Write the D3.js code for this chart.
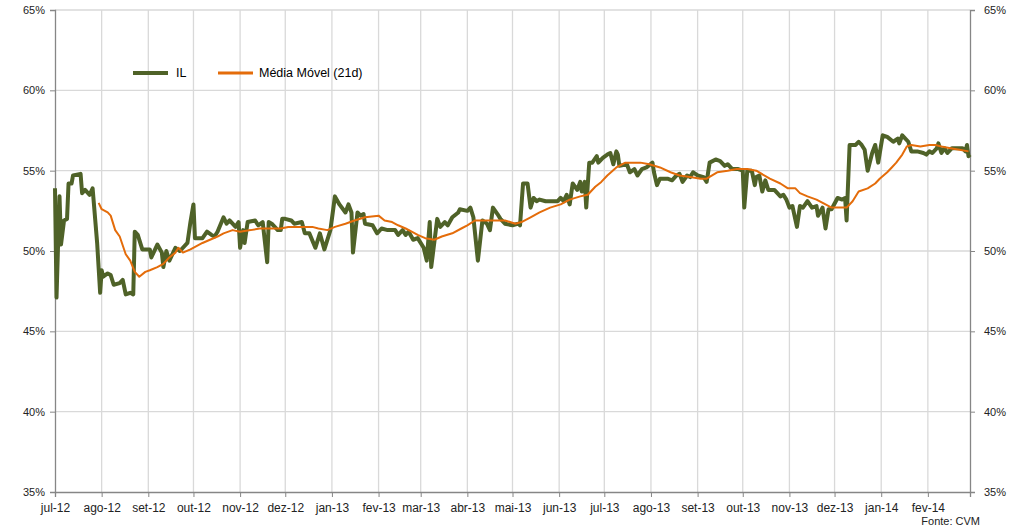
<!DOCTYPE html>
<head>
  <meta charset="utf-8">
  <script src="https://d3js.org/d3.v7.min.js"></script>
  <style>
    body { margin: 0; background: #fff; }
    svg { display: block; font-family: "Liberation Sans", Arial, sans-serif; }
    .axis path, .axis line { stroke: #868686; }
    .axis text { fill: #222; }
    .grid line { stroke: #d9d9d9; stroke-width: 1.3; }
  </style>
</head>
<body>
  <svg width="1023" height="531"></svg>
  <script>
    var width = 1023;
    var height = 531;
    var margin = { top: 10, bottom: 39, left: 55, right: 53 };

    // day counts since 1 jul 2012
    var startDate = new Date(2012, 6, 1);
    var endDate = new Date(2014, 2, 1);
    var monthNames = ['jan', 'fev', 'mar', 'abr', 'mai', 'jun', 'jul', 'ago', 'set', 'out', 'nov', 'dez'];
    var yTicks = [35, 40, 45, 50, 55, 60, 65];

    var ilDays = [0, 1, 3, 4, 6, 8, 9, 11, 12, 17, 18, 20, 23, 25, 28, 30, 31, 32, 35, 37, 39, 43, 45, 47, 50, 52,
      53, 55, 58, 63, 64, 68, 71, 72, 74, 76, 80, 83, 88, 90, 92, 93, 98, 101, 104, 106, 108, 112, 114, 116, 120,
      122, 123, 125, 126, 128, 133, 135, 138, 141, 142, 144, 148, 150, 151, 153, 157, 159, 164, 166, 169, 173, 176,
      179, 183, 186, 189, 193, 195, 197, 198, 201, 203, 205, 206, 211, 214, 217, 221, 226, 228, 231, 233, 235, 238,
      241, 245, 247, 249, 250, 254, 256, 259, 261, 264, 268, 269, 274, 276, 278, 281, 284, 287, 289, 291, 294, 296,
      299, 304, 308, 309, 311, 314, 316, 318, 320, 322, 326, 329, 334, 336, 338, 340, 342, 344, 347, 349, 350, 352,
      353, 355, 357, 360, 361, 364, 367, 369, 371, 373, 374, 375, 380, 382, 385, 387, 390, 393, 397, 398, 400, 402,
      407, 410, 413, 415, 417, 420, 422, 424, 427, 431, 433, 435, 439, 442, 445, 447, 450, 454, 457, 458, 460, 463,
      465, 466, 468, 470, 472, 474, 478, 482, 484, 486, 488, 490, 493, 495, 497, 500, 503, 506, 507, 510, 512, 514,
      516, 520, 523, 525, 526, 528, 532, 534, 536, 538, 540, 543, 545, 547, 550, 553, 557, 560, 561, 563, 567, 569,
      573, 577, 579, 581, 583, 586, 587, 589, 591, 593, 596, 599, 603, 605, 606, 607, 608];
    var ilValues = [53.9, 47.1, 53.4, 50.4, 51.9, 52.0, 54.2, 54.2, 54.7, 54.8, 53.6, 53.8, 53.5, 53.9, 50.5, 47.4,
      48.8, 48.4, 48.6, 48.5, 47.9, 48.0, 48.2, 47.3, 47.4, 47.3,
      51.2, 51.0, 50.1, 50.1, 49.6, 50.4, 49.9, 49.0, 50.0, 49.4, 50.2, 50.0, 50.5, 51.8, 52.9, 50.8, 50.8, 51.2,
      51.0, 50.9, 51.2, 52.1, 51.7, 51.9, 51.5,
      51.8, 50.2, 51.3, 50.5, 51.8, 51.9, 51.6, 51.8, 49.3, 51.8, 51.7, 51.3, 51.3, 52.0, 52.0, 51.9, 51.7, 51.8,
      51.1, 51.1, 50.2, 51.1,
      50.1, 51.3, 53.4, 52.9, 52.4, 52.9, 52.4, 49.9, 52.4, 52.2, 52.3, 51.7, 51.6, 51.1, 51.4, 51.3, 51.3, 51.0,
      51.3, 51.0, 51.2, 50.7,
      50.8, 50.2, 49.4, 51.8, 49.0, 52.0, 51.5, 51.8, 51.6, 52.1, 52.4, 52.6, 52.5, 52.7, 52.1, 49.4, 51.9, 51.7,
      51.3, 52.7, 52.3, 52.0,
      51.7, 51.6, 51.7, 51.6, 54.2, 54.2, 52.7, 53.3, 53.1, 53.2, 53.1, 53.1, 53.1, 53.3, 53.1, 53.5, 52.9, 54.2,
      53.8, 54.3, 53.7, 54.3,
      52.7, 55.5, 55.5, 55.9, 55.5, 55.8, 56.0, 56.1, 55.4, 56.2, 56.0, 55.3, 55.4, 54.9, 55.1, 54.7, 55.1, 55.2,
      55.5, 54.9, 54.1, 54.5,
      54.5, 54.4, 54.7, 54.8, 54.3, 54.7, 54.6, 54.9, 54.7, 54.6, 54.3, 55.5, 55.7, 55.6, 55.3, 55.4, 55.1, 55.1,
      55.0, 52.7, 55.0, 55.0,
      54.1, 54.6, 54.7, 53.7, 54.4, 53.8, 53.8, 53.4, 53.5, 53.2, 52.7, 52.8, 51.5, 52.8, 52.7, 53.1, 52.7, 52.8,
      52.2, 52.7, 51.4, 52.6,
      52.6, 53.3, 53.2, 53.3, 51.9, 56.6, 56.6, 56.8, 56.6, 56.3, 55.0, 56.1, 56.6, 55.5, 57.2, 57.1, 56.8, 57.0,
      56.7, 57.2, 56.8, 56.2,
      56.2, 56.1, 56.0, 56.2, 56.1, 56.4, 56.7, 56.1, 56.4, 56.1, 56.4, 56.4, 56.4, 56.2, 56.6, 55.9, 56.0];

    var maDays = [29, 31, 35, 37, 40, 43, 47, 50, 53, 56, 60, 63, 68, 72, 76, 80, 82, 85, 90, 94, 98, 103, 108, 112,
      118, 123, 130, 136, 143, 150, 155, 159, 166, 171, 175, 181, 186, 193, 199, 206, 215, 219, 224, 228, 233, 237,
      241, 246, 252, 257, 264, 270, 274, 279, 286, 292, 299, 306, 310, 316, 322, 329, 336, 342, 349, 354, 359, 363,
      367, 373, 379, 383, 389, 395, 402, 409, 415, 422, 429, 433, 440, 447, 453, 460, 466, 475, 482, 487, 492, 495,
      500, 506, 512, 516, 522, 526, 530, 534, 540, 545, 548, 553, 556, 559, 563, 566, 569, 575, 581, 585, 589, 595,
      601, 607];
    var maValues = [53.0, 52.6, 52.4, 52.2, 51.3, 50.9, 49.8, 49.4, 48.7, 48.4, 48.7, 48.8, 49.0, 49.2, 49.6, 49.9,
      50.2, 49.9, 50.1, 50.3, 50.5, 50.7, 50.9, 51.1, 51.3, 51.2, 51.3, 51.4, 51.4, 51.4, 51.5, 51.5, 51.5, 51.5,
      51.4, 51.3, 51.5, 51.7, 51.9, 52.1, 52.2, 51.9, 51.8, 51.6, 51.4, 51.2, 51.0, 50.8, 50.7, 50.9, 51.1, 51.4,
      51.6, 51.9, 51.9, 51.9, 51.9, 51.7, 51.8, 52.1, 52.4, 52.7, 52.9, 53.2, 53.4, 53.5, 54.0, 54.3, 54.7, 55.2,
      55.5, 55.5, 55.5, 55.4, 55.2, 54.9, 54.7, 54.6, 54.5, 54.5, 54.9, 55.0, 55.1, 55.1, 55.0, 54.5, 54.2, 53.9,
      53.9, 53.6, 53.4, 53.2, 52.9, 52.7, 52.7, 52.7, 53.1, 53.7, 53.9, 54.2, 54.5, 54.9, 55.2, 55.5, 56.0, 56.5,
      56.6, 56.5, 56.6, 56.6, 56.5, 56.4, 56.3, 56.2];

    var ilData = ilDays.map(function (d, i) {
      return { date: d3.timeDay.offset(startDate, d), value: ilValues[i] };
    });
    var maData = maDays.map(function (d, i) {
      return { date: d3.timeDay.offset(startDate, d), value: maValues[i] };
    });

    var svg = d3.select('svg');

    var xScale = d3.scaleTime()
      .domain([startDate, endDate])
      .range([margin.left, width - margin.right]);
    var yScale = d3.scaleLinear()
      .domain([35, 65])
      .range([height - margin.bottom, margin.top]);

    var months = d3.timeMonth.range(startDate, endDate);
    var monthLabel = function (d) {
      return monthNames[d.getMonth()] + '-' + String(d.getFullYear()).slice(2);
    };

    // grid
    svg.append('g').attr('class', 'grid')
      .selectAll('line').data(months.slice(1)).enter().append('line')
      .attr('x1', d => xScale(d)).attr('x2', d => xScale(d))
      .attr('y1', margin.top).attr('y2', height - margin.bottom);
    svg.append('g').attr('class', 'grid')
      .selectAll('line').data(yTicks.slice(1)).enter().append('line')
      .attr('x1', margin.left).attr('x2', width - margin.right)
      .attr('y1', d => yScale(d)).attr('y2', d => yScale(d));

    // axes
    var yAxisL = d3.axisLeft(yScale).tickValues(yTicks).tickFormat(d => d + '%').tickSize(5).tickPadding(5);
    var yAxisR = d3.axisRight(yScale).tickValues(yTicks).tickFormat(d => d + '%').tickSize(5).tickPadding(9);
    var xAxis = d3.axisBottom(xScale).tickValues(months).tickFormat(monthLabel).tickSize(5).tickPadding(6);

    svg.append('g').attr('class', 'axis')
      .attr('transform', 'translate(' + [margin.left, 0] + ')')
      .call(yAxisL)
      .call(g => g.selectAll('text').style('font-size', '11px'));
    svg.append('g').attr('class', 'axis')
      .attr('transform', 'translate(' + [width - margin.right, 0] + ')')
      .call(yAxisR)
      .call(g => g.selectAll('text').style('font-size', '11px'));
    svg.append('g').attr('class', 'axis')
      .attr('transform', 'translate(' + [0, height - margin.bottom] + ')')
      .call(xAxis)
      .call(g => g.selectAll('text').style('font-size', '12px'));
    svg.selectAll('.axis .domain').attr('stroke-width', 1.3);

    // lines
    var line = d3.line().x(d => xScale(d.date)).y(d => yScale(d.value));

    svg.append('path').datum(ilData)
      .attr('fill', 'none')
      .attr('stroke', '#4f6228')
      .attr('stroke-width', 4)
      .attr('stroke-linejoin', 'round')
      .attr('d', line);
    svg.append('path').datum(maData)
      .attr('fill', 'none')
      .attr('stroke', '#e46c0a')
      .attr('stroke-width', 2)
      .attr('stroke-linejoin', 'round')
      .attr('d', line);

    // legend
    var legend = svg.append('g').attr('transform', 'translate(133,73)');
    legend.append('line').attr('x1', 0).attr('x2', 35).attr('stroke', '#4f6228').attr('stroke-width', 4);
    legend.append('text').attr('x', 43).attr('dy', '0.35em').style('font-size', '12.5px').text('IL');
    legend.append('line').attr('x1', 85).attr('x2', 120).attr('stroke', '#e46c0a').attr('stroke-width', 3);
    legend.append('text').attr('x', 126).attr('dy', '0.35em').style('font-size', '12.5px').text('Média Móvel (21d)');

    svg.append('text')
      .attr('x', 980).attr('y', 525)
      .attr('text-anchor', 'end')
      .style('font-size', '11px')
      .attr('fill', '#222')
      .text('Fonte: CVM');
  </script>
</body>
